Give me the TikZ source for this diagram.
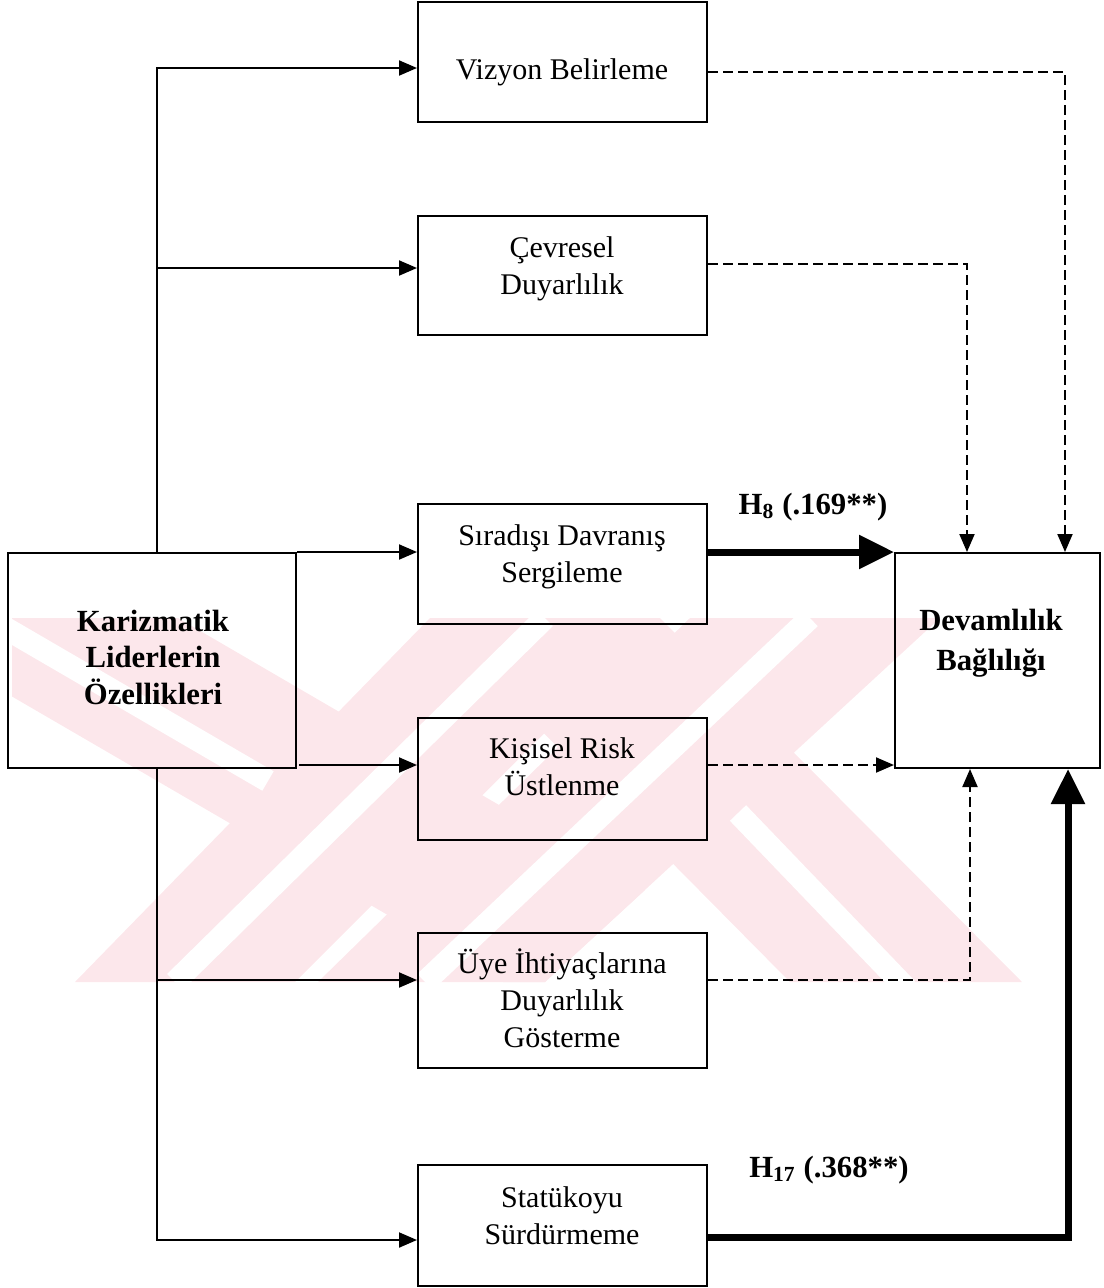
\documentclass[tikz,border=0pt]{standalone}
\usepackage{fontspec}
\setmainfont{Liberation Serif}
\usetikzlibrary{arrows.meta}

\definecolor{wmpink}{RGB}{252,231,235}

\tikzset{
  box/.style={draw, line width=0.8pt, inner sep=0pt, minimum width=115.6pt},
  txt/.style={align=center, inner sep=0pt, font=\fontsize{12}{14.8}\selectfont},
  btxt/.style={txt, font=\fontsize{12.3}{14.6}\selectfont\bfseries},
  gap/.style={white, line width=9pt},
  ln/.style={line width=0.8pt},
  arr/.style={ln, -{Triangle[length=7.2pt,width=6pt]}},
  darr/.style={arr, dash pattern=on 4pt off 2pt},
  tarr/.style={line width=2.8pt, line join=miter, -{Triangle[length=14pt,width=13pt]}},
}

\begin{document}
\begin{tikzpicture}[x=0.4pt, y=-0.4pt]
  \useasboundingbox (0,0) rectangle (1104,1288);

  % faint background emblem: crossing striped bands
  \begin{scope}
    \clip (12,618) rectangle (1022,982);
    \fill[wmpink] (-123,618) -- (178,618) -- (645,890) -- (545,982) -- (503,982) -- cycle;
    \fill[wmpink] (430,618) -- (660,618) -- (295,982) -- (75,982) -- cycle;
    \fill[wmpink] (690,618) -- (940,618) -- (545,982) -- (318,982) -- cycle;
    \fill[wmpink] (430,618) -- (660,618) -- (1022,982) -- (790,982) -- cycle;
    \draw[gap] (-12,618) -- (268,781);
    \draw[gap] (545,618) -- (175,982);
    \draw[gap] (810,618) -- (425,982);
    \draw[gap] (738,813) -- (907,989);
  \end{scope}

  % boxes
  \node[box, minimum height=48pt]   (viz) at (562.5,62)    {};
  \node[box, minimum height=47.6pt] (cev) at (562.5,275.5) {};
  \node[box, minimum height=48pt]   (sir) at (562.5,564)   {};
  \node[box, minimum height=48.8pt] (kis) at (562.5,779)   {};
  \node[box, minimum height=54pt]   (uye) at (562.5,1000.5){};
  \node[box, minimum height=48.4pt] (sta) at (562.5,1225.5){};
  \node[box, minimum width=115.2pt, minimum height=86pt] (kar) at (152,660.5) {};
  \node[box, minimum width=82pt, minimum height=86pt]    (dev) at (997.5,660.5) {};

  % box texts
  \node[txt]  (vizt) at (562,72)   {Vizyon Belirleme};
  \node[txt]  (cevt) at (562,269)  {Çevresel\\Duyarlılık};
  \node[txt]  (sirt) at (562,557)  {Sıradışı Davranış\\Sergileme};
  \node[txt]  (kist) at (562,767)  {Kişisel Risk\\Üstlenme};
  \node[txt]  (uyet) at (562,998)  {Üye İhtiyaçlarına\\Duyarlılık\\Gösterme};
  \node[txt]  (stat) at (562,1216) {Statükoyu\\Sürdürmeme};
  \node[btxt] (kart) at (153,657)  {Karizmatik\\Liderlerin\\Özellikleri};
  \node[btxt, font=\fontsize{12.3}{16}\selectfont\bfseries] (devt) at (991,643) {Devamlılık\\Bağlılığı};

  % path labels
  \node[btxt] (h8)  at (813,507)  {H\textsubscript{8} (.169**)};
  \node[btxt] (h17) at (829,1170) {H\textsubscript{17} (.368**)};

  % branching points of the trunk
  \coordinate (tv) at (157,68);
  \coordinate (tc) at (157,268);
  \coordinate (tu) at (157,980);
  \coordinate (ts) at (157,1240);

  % trunk and solid arrows to the dimensions
  \draw[arr] (kar.north -| tv) -- (tv) -- (tv -| viz.west);
  \draw[arr] (tc) -- (tc -| cev.west);
  \draw[arr] (kar.north east) -- (kar.north east -| sir.west);
  \coordinate (kr) at (299,765);
  \draw[arr] (kr) -- (kr -| kis.west);
  \draw[ln] (kar.south -| tu) -- (tu);
  \draw[arr] (tu) -- (ts) -- (ts -| sta.west);
  \draw[arr] (tu) -- (tu -| uye.west);

  % paths into the outcome
  \coordinate (dv) at (1065,72);
  \coordinate (dc) at (967,264);
  \coordinate (du) at (970,980);
  \coordinate (ds) at (1068,1237);
  \draw[darr] (viz.east |- dv) -- (dv) -- (dv |- dev.north);
  \draw[darr] (cev.east |- dc) -- (dc) -- (dc |- dev.north);
  \draw[tarr] (sir.east |- dev.north west) -- (dev.north west);
  \draw[darr] (kis.east |- kr) -- (kr -| dev.west);
  \draw[darr] (uye.east |- du) -- (du) -- (du |- dev.south);
  \draw[tarr] (sta.east |- ds) -- (ds) -- (ds |- dev.south);
\end{tikzpicture}
\end{document}
